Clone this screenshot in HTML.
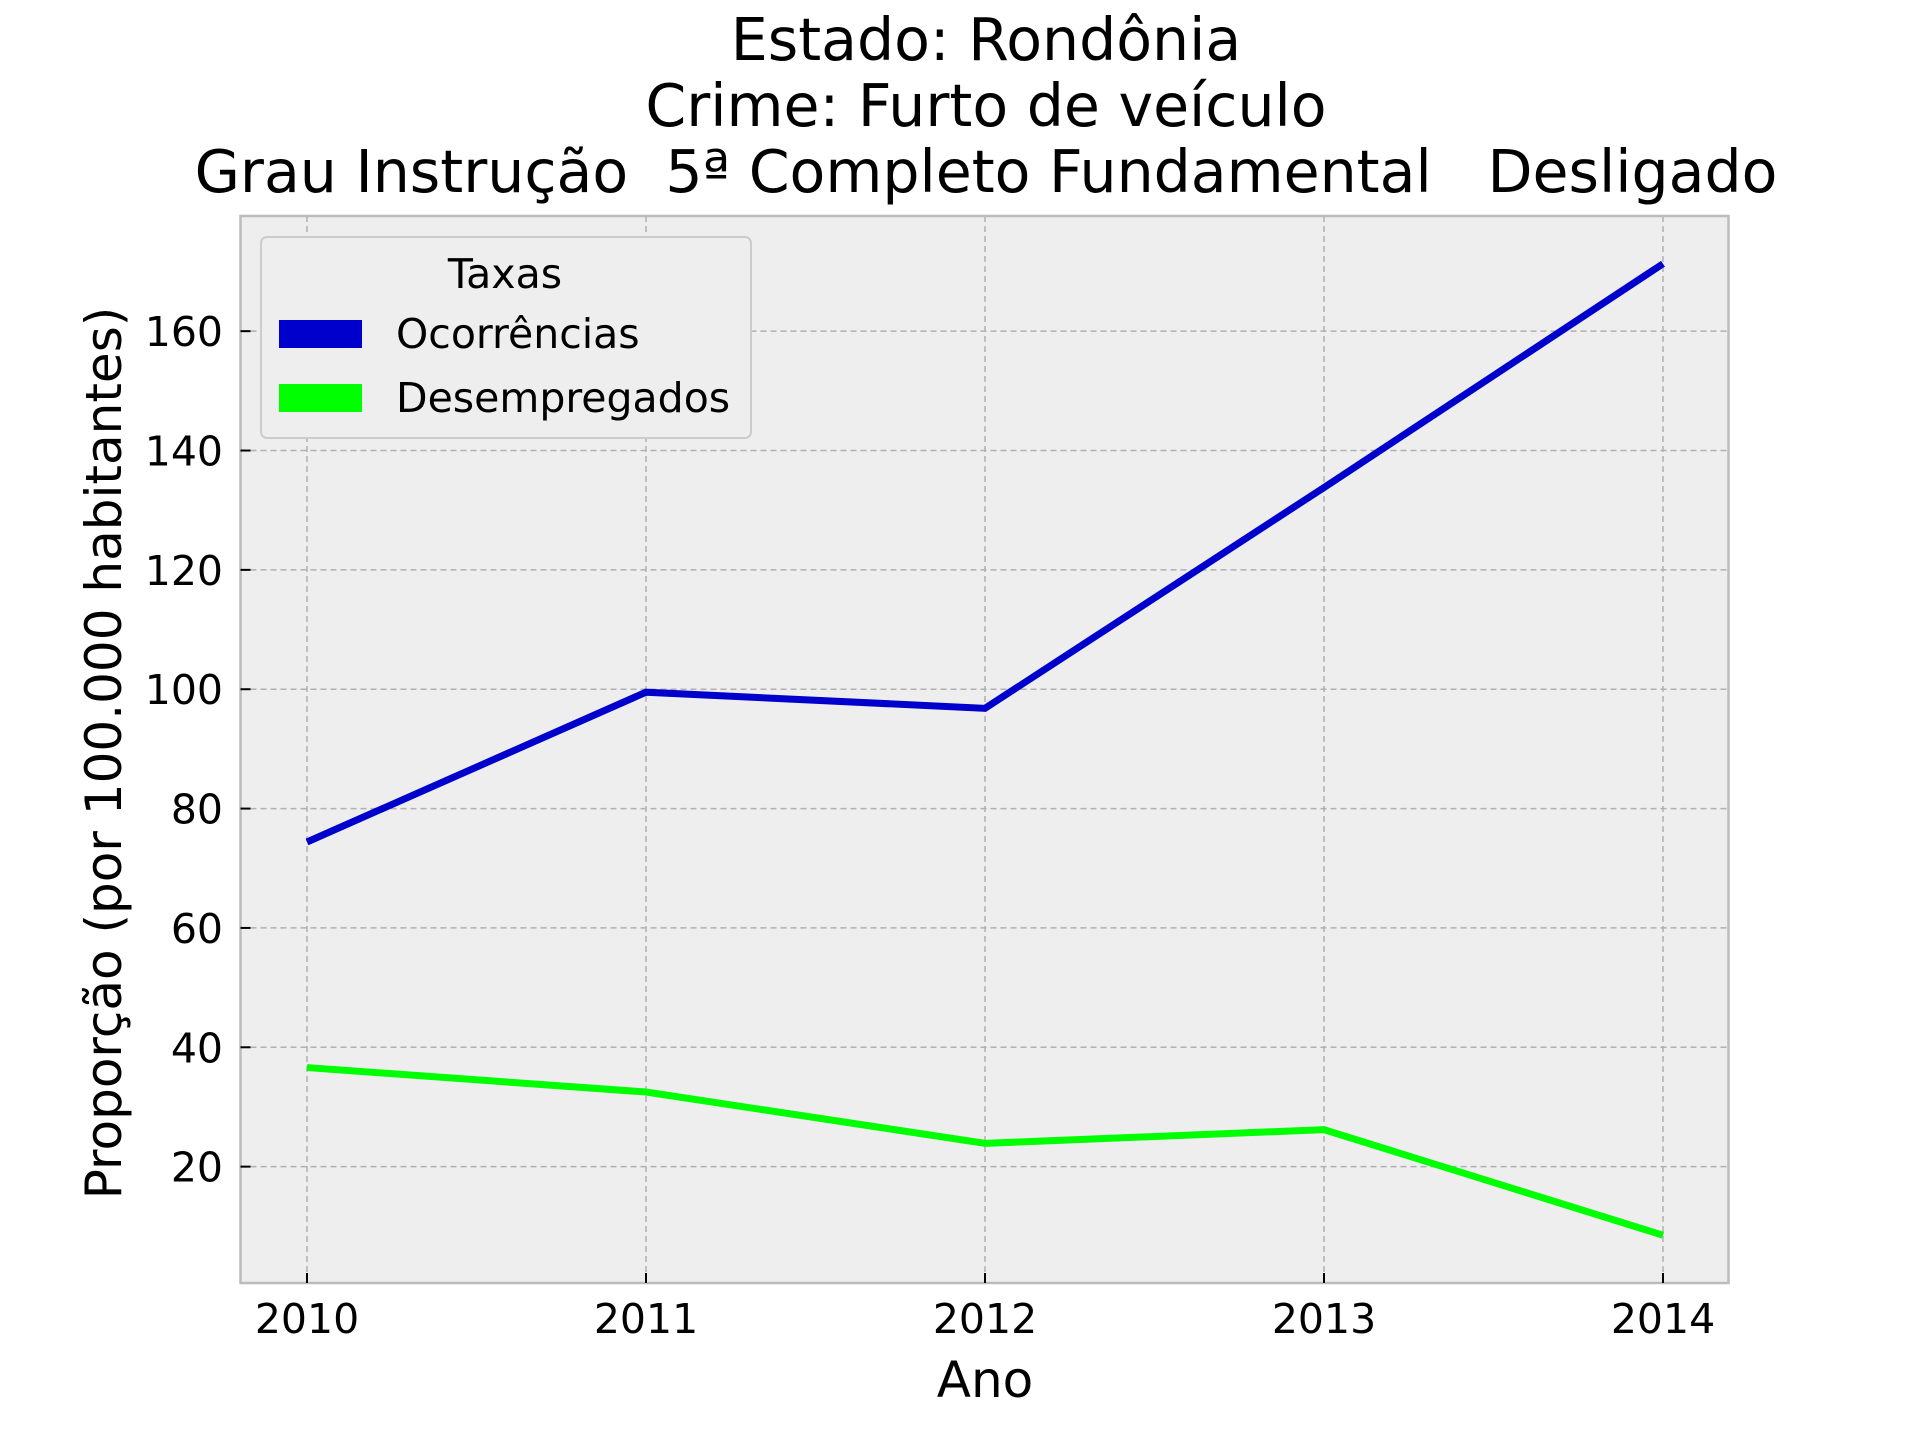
<!DOCTYPE html>
<html><head><meta charset="utf-8"><style>html,body{margin:0;padding:0;background:#fff}svg{display:block}text{font-family:"DejaVu Sans","Liberation Sans",sans-serif}</style></head>
<body>
<svg id="chart" width="1920" height="1440" viewBox="0 0 1920 1440" xmlns="http://www.w3.org/2000/svg">
<g font-size="58.5" text-anchor="middle" fill="#000">
<text x="986" y="60">Estado: Rondônia</text>
<text x="986" y="126">Crime: Furto de veículo</text>
<text x="986" y="192" xml:space="preserve">Grau Instrução  5ª Completo Fundamental   Desligado</text>
</g>
<rect x="240.5" y="216" width="1488" height="1067" fill="#eeeeee"/>
<g id="grid"></g>
<g id="series"></g>
<rect x="240.5" y="216" width="1488" height="1067" fill="none" stroke="#bcbcbc" stroke-width="2.5"/>
<g id="ticks" font-size="41" fill="#000"></g>
<text x="0" y="0" transform="translate(121,753) rotate(-90)" font-size="50" text-anchor="middle">Proporção (por 100.000 habitantes)</text>
<text x="985" y="1397" font-size="50" text-anchor="middle">Ano</text>
<g>
<rect x="261" y="237" width="490" height="201" rx="6" fill="#eeeeee" stroke="#cccccc" stroke-width="2"/>
<text x="505" y="288" font-size="41" text-anchor="middle">Taxas</text>
<g><rect x="279" y="320" width="83" height="28" fill="#0000cc"/><text x="396" y="348" font-size="41">Ocorrências</text></g>
<g><rect x="279" y="384" width="83" height="28" fill="#00ff00"/><text x="396" y="412" font-size="41">Desempregados</text></g>
</g>
</svg>
<script>
const years = [2010, 2011, 2012, 2013, 2014];
const ocorrencias = [74.4, 99.5, 96.8, 133.8, 171.3];
const desempregados = [36.6, 32.5, 23.9, 26.2, 8.5];
const yTicks = [20, 40, 60, 80, 100, 120, 140, 160];
const NS = 'http://www.w3.org/2000/svg';
const L = 240.5, R = 1728.5, T = 216, B = 1283;
const yMin = 0.5, yMax = 179.3;
function xs(i){ return 307 + (1663 - 307) * (i) / (years.length - 1); }
function ys(v){ return B - (v - yMin) / (yMax - yMin) * (B - T); }
const grid = document.getElementById('grid'), ticks = document.getElementById('ticks'), series = document.getElementById('series');
function mk(tag, attrs, parent){ const e = document.createElementNS(NS, tag); for (const k in attrs) e.setAttribute(k, attrs[k]); parent.appendChild(e); return e; }
years.forEach((yr, i) => {
  const x = xs(i);
  const g = mk('line', {x1:x, x2:x, y1:T, y2:B, stroke:'#b0b0b0', 'stroke-width':1.5, 'stroke-dasharray':'6,4'}, grid);
  
  
  mk('line', {x1:x, x2:x, y1:B, y2:B-10, stroke:'#000', 'stroke-width':2}, ticks);
  const t = mk('text', {x:x, y:1333, 'text-anchor':'middle'}, ticks);
  t.textContent = yr;
  
  
});
yTicks.forEach(v => {
  const y = ys(v);
  const g = mk('line', {x1:L, x2:R, y1:y, y2:y, stroke:'#b0b0b0', 'stroke-width':1.5, 'stroke-dasharray':'6,4'}, grid);
  
  
  mk('line', {x1:L, x2:L+10, y1:y, y2:y, stroke:'#000', 'stroke-width':2}, ticks);
  const t = mk('text', {x:223, y:y+15, 'text-anchor':'end'}, ticks);
  t.textContent = v;
  
  
});
function line(vals, color, name){
  const p = mk('polyline', {points: vals.map((v,i)=>xs(i)+','+ys(v)).join(' '), fill:'none', stroke:color, 'stroke-width':7}, series);
  
  
}
line(ocorrencias, '#0000cc', 'ocorrencias-line');
line(desempregados, '#00ff00', 'desempregados-line');
</script>
</body></html>
